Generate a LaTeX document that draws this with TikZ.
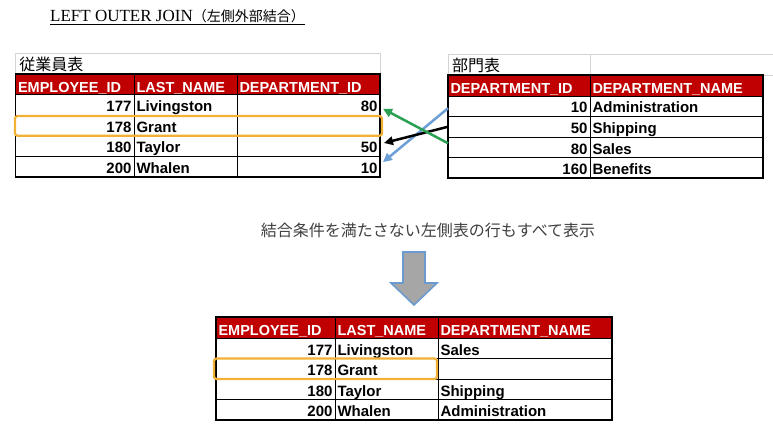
\documentclass[tikz,border=0pt]{standalone}
\usepackage{fontspec}
\usetikzlibrary{arrows.meta,calc}
\setmainfont{Liberation Sans}
\newfontfamily\jpf{Noto Sans CJK JP}
\newfontfamily\serf{Liberation Serif}
\definecolor{hdr}{HTML}{C00000}
\definecolor{hl}{HTML}{F2B134}
\definecolor{grn}{HTML}{2AA052}
\definecolor{blu}{HTML}{6C9FD6}
\definecolor{arrfill}{HTML}{A6A6A6}
\definecolor{arredge}{HTML}{6A9AD0}
\definecolor{gridc}{HTML}{D4D4D4}
\definecolor{txtc}{HTML}{404040}
\newcommand\bodyfnt{\fontsize{15}{15}\selectfont\bfseries}
\newcommand\hdrfnt{\fontsize{14.5}{14.5}\selectfont\bfseries}
% name, x1, y1, x2, y2, style, text
\newcommand\tcell[7]{%
  \pgfmathsetmacro\cw{#4-#2}\pgfmathsetmacro\ch{#5-#3}\pgfmathsetmacro\tw{#4-#2-5}%
  \node[cellbase,#6,minimum width=\cw pt,minimum height=\ch pt,text width=\tw pt] (#1) at (#2,#3) {#7};}
\tikzset{
  cellbase/.style={draw=black,line width=0.7pt,fill=white,inner xsep=2.5pt,inner ysep=0pt,
    anchor=north west,outer sep=0pt,font=\bodyfnt,text height=13.5pt,text depth=0pt},
  hc/.style={fill=hdr,text=white,font=\hdrfnt,text height=16pt,align=left},
  num/.style={align=right},
  txt/.style={align=left},
  ttlrow/.style={draw=gridc,line width=0.8pt,inner xsep=4pt,inner ysep=0pt,anchor=north west,
    outer sep=0pt,font={\jpf\fontsize{16}{16}\selectfont},text height=15pt,text depth=1pt,align=left},
  conn/.style={line width=2.5pt,-{Triangle[length=9pt,width=8.5pt]}},
  outline/.style={line width=1.3pt},
  hlbox/.style={draw=hl,line width=2.2pt,rounded corners=2.5pt}
}
\begin{document}
\begin{tikzpicture}[x=1pt,y=-1pt]
\useasboundingbox[fill=white] (0,0) rectangle (773,433);

% title
\node[anchor=base west,inner sep=0pt,text=black] (title) at (50,22)
  {{\serf\fontsize{17}{17}\selectfont LEFT OUTER JOIN}{\jpf\fontsize{14}{14}\selectfont （左側外部結合）}};
\draw[line width=0.9pt,black] ([yshift=-2pt]title.base west) -- ([yshift=-2pt]title.base east);

% ---------- left table ----------
\node[ttlrow,minimum width=364.5pt,minimum height=21pt,text width=356.5pt] (LT) at (15.5,53) {従業員表};
\tcell{L-h-1}{15.5}{74}{134}{94.5}{hc}{EMPLOYEE\_ID}
\tcell{L-h-2}{134}{74}{237}{94.5}{hc}{LAST\_NAME}
\tcell{L-h-3}{237}{74}{380}{94.5}{hc}{DEPARTMENT\_ID}
\tcell{L-1-1}{15.5}{94.5}{134}{115.1}{num}{177}
\tcell{L-1-2}{134}{94.5}{237}{115.1}{txt}{Livingston}
\tcell{L-1-3}{237}{94.5}{380}{115.1}{num}{80}
\tcell{L-2-1}{15.5}{115.1}{134}{135.7}{num}{178}
\tcell{L-2-2}{134}{115.1}{237}{135.7}{txt}{Grant}
\tcell{L-2-3}{237}{115.1}{380}{135.7}{num}{}
\tcell{L-3-1}{15.5}{135.7}{134}{156.3}{num}{180}
\tcell{L-3-2}{134}{135.7}{237}{156.3}{txt}{Taylor}
\tcell{L-3-3}{237}{135.7}{380}{156.3}{num}{50}
\tcell{L-4-1}{15.5}{156.3}{134}{177}{num}{200}
\tcell{L-4-2}{134}{156.3}{237}{177}{txt}{Whalen}
\tcell{L-4-3}{237}{156.3}{380}{177}{num}{10}
\draw[outline] (L-h-1.north west) rectangle (L-4-3.south east);
\draw[hlbox] ([xshift=-0.5pt,yshift=-1pt]L-2-1.north west) rectangle ([xshift=2pt]L-2-3.south east);

% ---------- right table ----------
\node[ttlrow,minimum width=325pt,minimum height=21pt,text width=317pt] (RT) at (448,54) {部門表};
\tcell{R-h-1}{448}{75}{590}{96}{hc}{DEPARTMENT\_ID}
\tcell{R-h-2}{590}{75}{763}{96}{hc}{DEPARTMENT\_NAME}
\draw[gridc,line width=0.8pt] (RT.north west -| R-h-2.north west) -- (R-h-2.north west);
\tcell{R-1-1}{448}{96}{590}{116.5}{num}{10}
\tcell{R-1-2}{590}{96}{763}{116.5}{txt}{Administration}
\tcell{R-2-1}{448}{116.5}{590}{137}{num}{50}
\tcell{R-2-2}{590}{116.5}{763}{137}{txt}{Shipping}
\tcell{R-3-1}{448}{137}{590}{157.5}{num}{80}
\tcell{R-3-2}{590}{137}{763}{157.5}{txt}{Sales}
\tcell{R-4-1}{448}{157.5}{590}{178}{num}{160}
\tcell{R-4-2}{590}{157.5}{763}{178}{txt}{Benefits}
\draw[outline] (R-h-1.north west) rectangle (R-4-2.south east);

% connectors
\draw[conn,blu] ([yshift=-2pt]R-1-1.west) -- ([xshift=3pt,yshift=4.5pt]L-4-3.east);
\draw[conn,black] (R-2-1.west) -- ([xshift=4pt,yshift=3pt]L-3-3.east);
\draw[conn,grn] ([yshift=4pt]R-3-1.west) -- ([xshift=3pt,yshift=-4pt]L-1-3.east);

% condition text
\node[font={\jpf\fontsize{16}{16}\selectfont},text=txtc,inner sep=0pt] (cond) at (428,230) {結合条件を満たさない左側表の行もすべて表示};

% big down arrow
\draw[fill=arrfill,draw=arredge,line width=1.6pt,line join=miter]
  (403,252) -- (425,252) -- (425,283) -- (437,283) -- (414,305) -- (391,283) -- (403,283) -- cycle;

% ---------- result table ----------
\tcell{B-h-1}{216}{317}{335}{338}{hc}{EMPLOYEE\_ID}
\tcell{B-h-2}{335}{317}{438}{338}{hc}{LAST\_NAME}
\tcell{B-h-3}{438}{317}{612}{338}{hc}{DEPARTMENT\_NAME}
\tcell{B-1-1}{216}{338}{335}{358.5}{num}{177}
\tcell{B-1-2}{335}{338}{438}{358.5}{txt}{Livingston}
\tcell{B-1-3}{438}{338}{612}{358.5}{txt}{Sales}
\tcell{B-2-1}{216}{358.5}{335}{379}{num}{178}
\tcell{B-2-2}{335}{358.5}{438}{379}{txt}{Grant}
\tcell{B-2-3}{438}{358.5}{612}{379}{txt}{}
\tcell{B-3-1}{216}{379}{335}{399.5}{num}{180}
\tcell{B-3-2}{335}{379}{438}{399.5}{txt}{Taylor}
\tcell{B-3-3}{438}{379}{612}{399.5}{txt}{Shipping}
\tcell{B-4-1}{216}{399.5}{335}{420}{num}{200}
\tcell{B-4-2}{335}{399.5}{438}{420}{txt}{Whalen}
\tcell{B-4-3}{438}{399.5}{612}{420}{txt}{Administration}
\draw[outline] (B-h-1.north west) rectangle (B-4-3.south east);
\draw[hlbox] ([xshift=-2pt]B-2-1.north west) rectangle ([xshift=-1pt]B-2-2.south east);
\end{tikzpicture}
\end{document}
